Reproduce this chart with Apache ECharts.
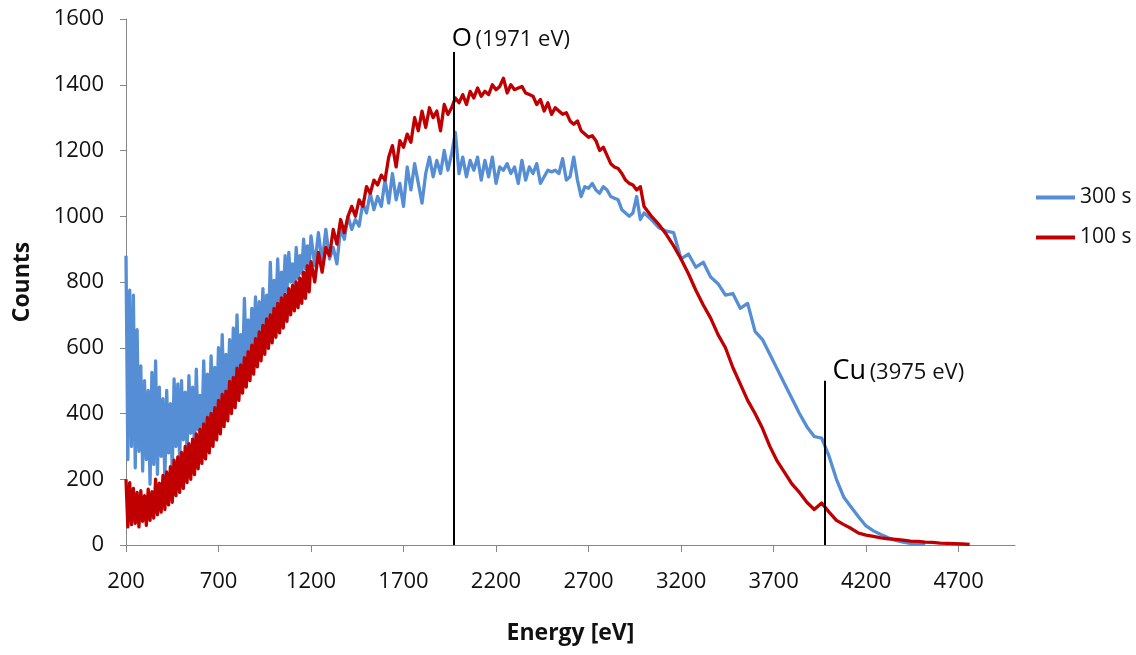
<!DOCTYPE html>
<html>
<head>
<meta charset="utf-8">
<script src="https://cdn.jsdelivr.net/npm/echarts@6/dist/echarts.min.js"></script>
<style>
html,body{margin:0;padding:0;background:#fff;}
#chart{width:1136px;height:655px;}
</style>
</head>
<body>
<div id="chart"></div>
<script>
// Energy bins (eV)
const energy = [
200,210,220,230,240,250,260,270,280,290,
300,310,320,330,340,350,360,370,380,390,
400,410,420,430,440,450,460,470,480,490,
500,510,520,530,540,550,560,570,580,590,
600,610,620,630,640,650,660,670,680,690,
700,710,720,730,740,750,760,770,780,790,
800,810,820,830,840,850,860,870,880,890,
900,910,920,930,940,950,960,970,980,990,
1000,1010,1020,1030,1040,1050,1060,1070,1080,1090,
1100,1110,1120,1130,1140,1150,1160,1170,1180,1190,
1200,
1220,1240,1260,1280,1300,1320,1340,1360,1380,1400,
1420,1440,1460,1480,1500,1520,1540,1560,1580,1600,
1620,1640,1660,1680,1700,1720,1740,1760,1780,1800,
1820,1840,1860,1880,1900,1920,1940,1960,1980,2000,
2020,2040,2060,2080,2100,2120,2140,2160,2180,2200,
2220,2240,2260,2280,2300,2320,2340,2360,2380,2400,
2420,2440,2460,2480,2500,2520,2540,2560,2580,2600,
2620,2640,2660,2680,2700,2720,2740,2760,2780,2800,
2820,2840,2860,2880,2900,2920,2940,2960,2980,3000,
3040,3080,3120,3160,3200,3240,3280,3320,3360,3400,
3440,3480,3520,3560,3600,3640,3680,3720,3760,3800,
3840,3880,3920,3960,4000,4040,4080,4120,4160,4200,
4240,4280,4320,4360,4400,4440,4480,4520,4560,4600,
4640,4680,4720,4760
];

// "300 s" counts
const counts300 = [
880,260,775,300,760,235,655,285,545,225,
500,260,470,185,525,245,560,215,480,270,
445,200,470,280,430,225,505,300,490,255,
500,320,465,280,515,340,480,300,535,350,
455,335,560,370,520,385,575,400,540,390,
600,415,640,430,580,455,625,440,660,485,
700,500,640,525,750,560,685,545,720,590,
755,560,740,615,780,620,760,650,860,680,
805,715,870,700,830,750,880,770,890,800,
855,780,905,810,880,825,930,840,910,850,
940,
850,950,860,960,870,905,855,965,930,1000,
960,990,970,1040,1010,1070,1020,1060,1030,1110,
1040,1130,1050,1100,1030,1150,1080,1160,1100,1040,
1130,1180,1120,1170,1130,1200,1140,1190,1255,1130,
1180,1120,1170,1140,1180,1110,1170,1120,1180,1100,
1150,1140,1160,1130,1150,1100,1170,1110,1150,1130,
1160,1100,1120,1140,1135,1140,1130,1175,1110,1120,
1180,1110,1060,1090,1085,1100,1080,1070,1090,1080,
1060,1055,1050,1020,1010,1000,1010,1060,990,1010,
990,965,955,950,870,885,845,860,815,795,
760,765,720,735,650,625,580,535,490,445,
400,360,330,325,270,200,145,115,85,58,
43,32,22,14,9,5,3,2,null,null,
null,null,null,null
];

// "100 s" counts
const counts100 = [
200,55,190,62,172,66,160,55,165,72,
150,60,170,75,162,82,200,92,188,100,
212,108,222,122,238,130,258,150,268,160,
282,172,300,190,308,200,322,214,338,232,
352,248,368,262,388,280,400,300,418,320,
440,338,458,360,468,378,498,400,510,418,
538,440,548,462,570,480,588,500,608,520,
628,542,648,560,668,580,688,598,700,615,
720,632,735,645,752,660,762,680,780,700,
790,712,800,722,812,735,830,750,850,770,
862,
800,890,830,905,880,960,915,990,950,1000,
1030,1000,1050,1030,1090,1070,1110,1095,1125,1110,
1180,1215,1150,1230,1210,1250,1225,1300,1260,1320,
1270,1330,1300,1320,1260,1340,1310,1330,1360,1345,
1370,1340,1380,1360,1390,1365,1380,1370,1400,1385,
1395,1420,1375,1400,1385,1390,1395,1375,1370,1365,
1340,1355,1320,1345,1310,1330,1320,1310,1315,1290,
1280,1290,1260,1250,1240,1245,1230,1200,1210,1185,
1160,1150,1145,1130,1110,1100,1095,1080,1090,1030,
1000,975,945,910,870,825,775,730,690,640,
600,540,490,440,400,355,300,255,220,185,
160,130,108,128,100,75,62,50,36,30,
26,22,19,17,15,12,11,9,8,6,
5,4,3,2
];

const seriesNames = ['300 s', '100 s'];
const seriesColors = ['#558ED5', '#C00000'];
const xTicks = [200,700,1200,1700,2200,2700,3200,3700,4200,4700];
const peakNames = ['O', 'Cu'];
const peakEnergies = [1971, 3975];
const peakTops = [1500, 500];

const chart = echarts.init(document.getElementById('chart'), null, {renderer: 'canvas'});
const FONT = '"Open Sans", Lato, sans-serif';

function pairs(vals) {
  return energy.map((e, i) => [e, vals[i]]);
}

const option = {
  animation: false,
  backgroundColor: '#fff',
  textStyle: {fontFamily: FONT},
  grid: {left: 126, right: 121, top: 19, bottom: 110, containLabel: false},
  legend: {
    orient: 'vertical',
    left: 1031,
    top: 182,
    itemWidth: 39,
    itemHeight: 4,
    itemGap: 19,
    icon: 'rect',
    textStyle: {fontFamily: FONT, fontSize: 21, color: '#111'},
    data: seriesNames
  },
  xAxis: {
    type: 'value',
    min: 200,
    max: 5005,
    interval: 500,
    name: 'Energy [eV]',
    nameLocation: 'middle',
    nameGap: 77,
    nameTextStyle: {fontFamily: FONT, fontSize: 23, fontWeight: 'bold', color: '#111'},
    axisLine: {show: true, lineStyle: {color: '#868686', width: 1}},
    axisTick: {show: true, length: 7, lineStyle: {color: '#868686'}, customValues: xTicks},
    axisLabel: {fontFamily: FONT, fontSize: 22, color: '#111', margin: 26, customValues: xTicks,
      formatter: v => String(v)},
    splitLine: {show: false}
  },
  yAxis: {
    type: 'value',
    min: 0,
    max: 1600,
    interval: 200,
    name: 'Counts',
    nameLocation: 'middle',
    nameGap: 92,
    nameRotate: 90,
    nameTextStyle: {fontFamily: FONT, fontSize: 23, fontWeight: 'bold', color: '#111'},
    axisLine: {show: true, lineStyle: {color: '#868686', width: 1}},
    axisTick: {show: true, length: 6, lineStyle: {color: '#868686'}},
    axisLabel: {fontFamily: FONT, fontSize: 22, color: '#111', margin: 22,
      formatter: v => String(v)},
    splitLine: {show: false}
  },
  series: [
    {
      name: seriesNames[0],
      type: 'line',
      data: pairs(counts300),
      showSymbol: false,
      symbol: 'none',
      sampling: null,
      connectNulls: false,
      lineStyle: {color: seriesColors[0], width: 3.3, join: 'round'},
      itemStyle: {color: seriesColors[0]},
      z: 2
    },
    {
      name: seriesNames[1],
      type: 'line',
      data: pairs(counts100),
      showSymbol: false,
      symbol: 'none',
      lineStyle: {color: seriesColors[1], width: 3.3, join: 'round'},
      itemStyle: {color: seriesColors[1]},
      z: 3,
      markLine: {
        silent: true,
        symbol: ['none', 'none'],
        label: {show: false},
        lineStyle: {color: '#000', width: 2, type: 'solid'},
        data: peakNames.map((n, i) => [
          {coord: [peakEnergies[i], 0]},
          {coord: [peakEnergies[i], peakTops[i]]}
        ])
      },
      markPoint: {
        silent: true,
        symbol: 'circle',
        symbolSize: 0,
        data: peakNames.map((n, i) => ({
          coord: [peakEnergies[i], peakTops[i]],
          value: peakEnergies[i],
          label: {
            show: true,
            position: i === 0 ? [-2, 0] : [8, 4],
            align: 'left',
            verticalAlign: 'bottom',
            formatter: '{a|' + n + '}{s| }{b|(' + peakEnergies[i] + ' eV)}',
            rich: {
              a: {fontFamily: FONT, fontSize: i === 0 ? 26 : 27, color: '#000', verticalAlign: 'bottom'},
              s: {fontFamily: FONT, fontSize: 14, verticalAlign: 'bottom'},
              b: {fontFamily: FONT, fontSize: 22, color: '#111', verticalAlign: 'bottom', padding: [0, 0, 1, 0]}
            }
          }
        }))
      }
    }
  ]
};
chart.setOption(option);
</script>
</body>
</html>
